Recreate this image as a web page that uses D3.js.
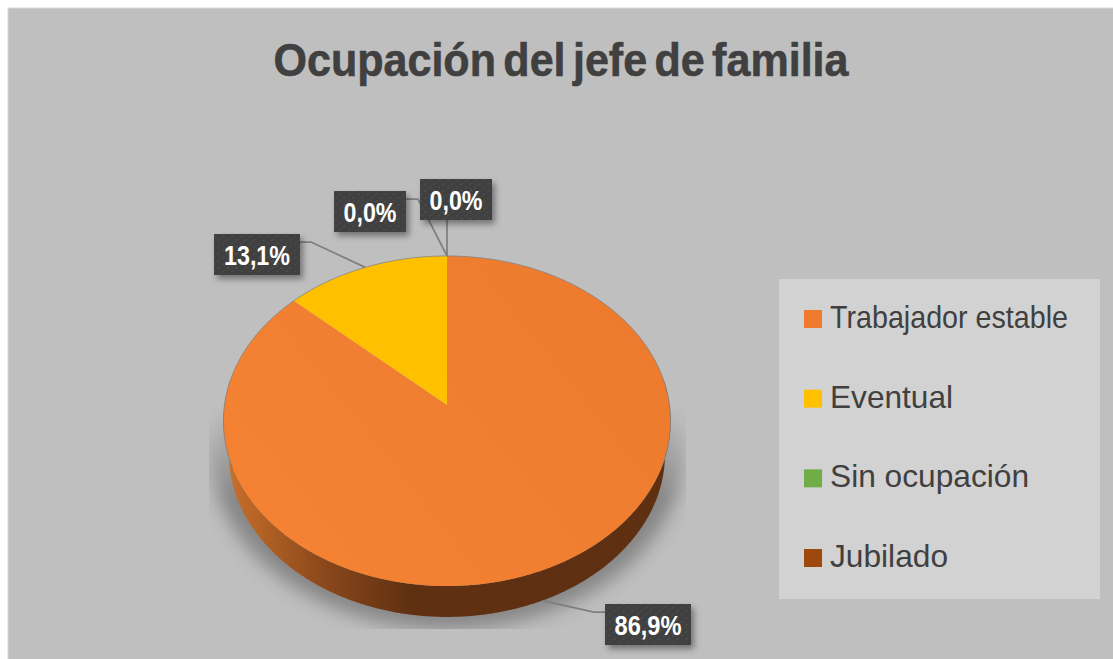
<!DOCTYPE html>
<html>
<head>
<meta charset="utf-8">
<script src="https://cdn.jsdelivr.net/npm/d3@7"></script>
<style>
    html, body { margin: 0; padding: 0; background: #fff; }
    svg { display: block; }
    text { font-family: "Liberation Sans", Arial, sans-serif; }
</style>
</head>
<body>
<div id="chart"></div>
<script>
var chartTitle = "Ocupación del jefe de familia";
var categories = ["Trabajador estable", "Eventual", "Sin ocupación", "Jubilado"];
var values = [86.9, 13.1, 0.0, 0.0];
var labels = ["86,9%", "13,1%", "0,0%", "0,0%"];
var colors = ["#ef7b2f", "#ffc000", "#70ad47", "#9e480e"];

var width = 1113, height = 659;

var svg = d3.select("#chart").append("svg")
    .attr("width", width)
    .attr("height", height);

var defs = svg.append("defs");

// wall of the pie, light on the left and dark from the middle on
var wallGrad = defs.append("linearGradient").attr("id", "wallGrad")
    .attr("gradientUnits", "userSpaceOnUse")
    .attr("x1", 228).attr("x2", 665).attr("y1", 0).attr("y2", 0);
wallGrad.append("stop").attr("offset", "0%").attr("stop-color", "#c96f2a");
wallGrad.append("stop").attr("offset", "22%").attr("stop-color", "#8a481b");
wallGrad.append("stop").attr("offset", "42%").attr("stop-color", "#5f3011");
wallGrad.append("stop").attr("offset", "100%").attr("stop-color", "#5e3011");

var topGrad = defs.append("linearGradient").attr("id", "topGrad")
    .attr("gradientUnits", "userSpaceOnUse")
    .attr("x1", 300).attr("y1", 560).attr("x2", 620).attr("y2", 300);
topGrad.append("stop").attr("offset", "0%").attr("stop-color", "#f58233");
topGrad.append("stop").attr("offset", "100%").attr("stop-color", "#ed7b2e");

defs.append("filter").attr("id", "pieBlur")
    .attr("x", "-20%").attr("y", "-20%").attr("width", "140%").attr("height", "140%")
    .append("feGaussianBlur").attr("stdDeviation", 9);

var fadeGrad = defs.append("linearGradient").attr("id", "fadeGrad")
    .attr("x1", 0).attr("x2", 0).attr("y1", 0).attr("y2", 1);
fadeGrad.append("stop").attr("offset", "0%").attr("stop-color", "#000");
fadeGrad.append("stop").attr("offset", "42%").attr("stop-color", "#fff");
defs.append("mask").attr("id", "fadeMask")
    .attr("maskUnits", "userSpaceOnUse")
    .attr("x", 0).attr("y", 0).attr("width", width).attr("height", height)
    .append("rect")
    .attr("x", 209).attr("y", 405).attr("width", 477).attr("height", 224)
    .attr("fill", "url(#fadeGrad)");

var boxShadow = defs.append("filter").attr("id", "boxShadow")
    .attr("x", "-20%").attr("y", "-20%").attr("width", "150%").attr("height", "160%");
boxShadow.append("feDropShadow")
    .attr("dx", 3).attr("dy", 4).attr("stdDeviation", 3)
    .attr("flood-color", "#000").attr("flood-opacity", 0.4);

var hatch = defs.append("pattern").attr("id", "hatch")
    .attr("patternUnits", "userSpaceOnUse")
    .attr("width", 9).attr("height", 7);
hatch.append("rect").attr("width", 9).attr("height", 7).attr("fill", "#404040");
hatch.append("path").attr("d", "M1 3L4 1M6 6.5L8.5 4.5")
    .attr("stroke", "#505050").attr("stroke-width", 1);

// background
svg.append("rect")
    .attr("x", 8).attr("y", 8)
    .attr("width", width).attr("height", height)
    .attr("fill", "#bfbfbf")
    .attr("stroke", "#d9d9d9");

// title
svg.append("text")
    .attr("x", 561).attr("y", 76)
    .attr("text-anchor", "middle")
    .attr("font-size", 47)
    .attr("font-weight", "bold")
    .attr("fill", "#404040")
    .attr("stroke", "#404040")
    .attr("stroke-width", 0.6)
    .attr("word-spacing", -5)
    .attr("textLength", 575)
    .attr("lengthAdjust", "spacingAndGlyphs")
    .text(chartTitle);

// tilted disc: angle 0 is at the top, the far side comes out smaller
var tilt = 0.097;
function project(a, disc) {
    var u = Math.sin(a), v = Math.cos(a), d = 1 + tilt * v;
    return [disc.cx + disc.w * u / d, disc.cy - disc.h * v / d];
}
var topDisc = { cx: 447, cy: 405, w: 222.5, h: 163.5 };
var bottomDisc = { cx: 447, cy: 438, w: 217, h: 161.6 };

function rim(a0, a1, disc) {
    var n = Math.max(1, Math.ceil(Math.abs(a1 - a0) / 0.01));
    return d3.range(n + 1).map(function (i) {
        return project(a0 + (a1 - a0) * i / n, disc);
    });
}

var line = d3.line();
var slices = d3.pie().sort(null)(values);

// shadow under the pie
defs.append("clipPath").attr("id", "shadowClip")
    .append("rect").attr("x", 209).attr("y", 400).attr("width", 477).attr("height", 229);
svg.append("g")
    .attr("clip-path", "url(#shadowClip)")
    .append("g")
    .attr("mask", "url(#fadeMask)")
    .append("path")
    .attr("d", line(rim(0, 2 * Math.PI, { cx: 447, cy: 434, w: 235, h: 176 })) + "Z")
    .attr("fill", "#606060")
    .attr("opacity", 0.6)
    .attr("filter", "url(#pieBlur)");

// wall
var wallPts = rim(Math.PI * 0.45, Math.PI * 1.55, topDisc)
    .concat(rim(Math.PI * 1.55, Math.PI * 0.45, bottomDisc));
svg.append("path")
    .attr("d", line(wallPts) + "Z")
    .attr("fill", "url(#wallGrad)");

// top of the pie
svg.append("g").selectAll("path")
    .data(slices)
    .enter().append("path")
    .attr("d", function (d) {
        return line([[topDisc.cx, topDisc.cy]].concat(rim(d.startAngle, d.endAngle, topDisc))) + "Z";
    })
    .attr("fill", function (d, i) { return i === 0 ? "url(#topGrad)" : colors[i]; });

// thin edge on the far side only
svg.append("path")
    .attr("d", line(rim(-Math.PI * 0.62, Math.PI * 0.62, topDisc)))
    .attr("fill", "none")
    .attr("stroke", "#7f7f7f")
    .attr("stroke-width", 0.75);

// data labels with their leader lines
var labelBoxes = [
    { x: 605, y: 604, w: 86, textW: 67, elbow: [[605, 612], [594, 612]], disc: bottomDisc },
    { x: 214, y: 234, w: 86, textW: 66, elbow: [[300, 242], [311, 242]], disc: topDisc },
    { x: 334, y: 191, w: 72, textW: 53, elbow: [[406, 199], [418, 199]], disc: topDisc },
    { x: 420, y: 179, w: 72, textW: 53, elbow: [[447, 220]], disc: topDisc }
];

var leaders = svg.append("g");
var boxes = svg.append("g");
slices.forEach(function (d, i) {
    var b = labelBoxes[i];
    var mid = (d.startAngle + d.endAngle) / 2;
    leaders.append("path")
        .attr("d", line(b.elbow.concat([project(mid, b.disc)])))
        .attr("fill", "none")
        .attr("stroke", "#7f7f7f")
        .attr("stroke-width", 1.75);
    boxes.append("rect")
        .attr("x", b.x).attr("y", b.y)
        .attr("width", b.w).attr("height", 41)
        .attr("fill", "url(#hatch)")
        .attr("filter", "url(#boxShadow)");
    boxes.append("text")
        .attr("x", b.x + b.w / 2).attr("y", b.y + 30.5)
        .attr("text-anchor", "middle")
        .attr("font-size", 28)
        .attr("font-weight", "bold")
        .attr("fill", "#fff")
        .attr("textLength", b.textW)
        .attr("lengthAdjust", "spacingAndGlyphs")
        .text(labels[i]);
});

// legend
svg.append("rect")
    .attr("x", 779).attr("y", 279)
    .attr("width", 321).attr("height", 320)
    .attr("fill", "#d2d2d2");

var legendY = d3.scalePoint().domain(categories).range([319, 558]);
var legendTextW = [238, 123, 199, 118];

var legend = svg.append("g").selectAll("g")
    .data(categories)
    .enter().append("g")
    .attr("transform", function (d) { return "translate(804," + legendY(d) + ")"; });

legend.append("rect")
    .attr("y", -9)
    .attr("width", 18).attr("height", 18)
    .attr("fill", function (d, i) { return colors[i]; });

legend.append("text")
    .attr("x", 26).attr("y", 9)
    .attr("font-size", 32)
    .attr("fill", "#404040")
    .attr("textLength", function (d, i) { return legendTextW[i]; })
    .attr("lengthAdjust", "spacingAndGlyphs")
    .text(function (d) { return d; });
</script>
</body>
</html>
